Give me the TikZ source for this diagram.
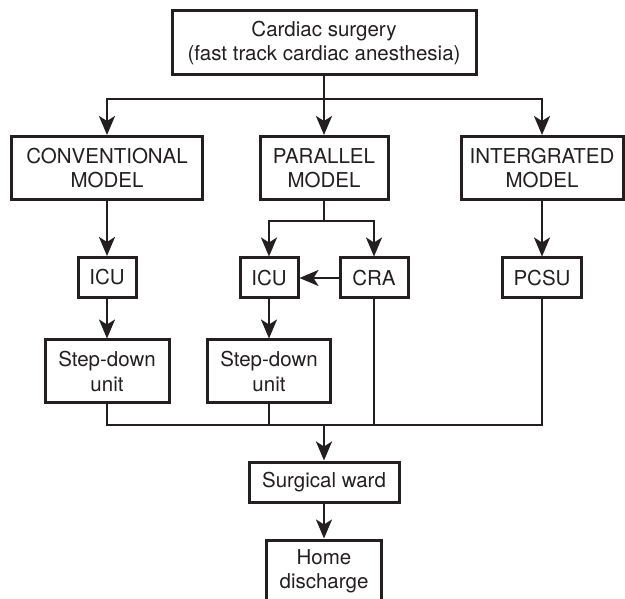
\documentclass[tikz,border=0pt]{standalone}
\usepackage{fontspec}
\setmainfont{TeX Gyre Heros}
\usetikzlibrary{arrows.meta}
\definecolor{ink}{HTML}{231F20}
\tikzset{
  box/.style={draw=ink, line width=3pt, text=ink, align=center, inner sep=0pt,
    font=\fontsize{20.5}{24.5}\selectfont},
  wire/.style={draw=ink, line width=2.5pt},
  arr/.style={wire, -{Stealth[length=19pt,width=16pt,inset=5pt]}},
}
\begin{document}
\begin{tikzpicture}[x=1pt,y=-1pt]
  \useasboundingbox (0,0) rectangle (625,599);
  % boxes
  \node[box, minimum width=304, minimum height=64] (top) at (324,43)
    {Cardiac surgery\\(fast track cardiac anesthesia)};
  \node[box, minimum width=191, minimum height=63] (conv) at (107,168) {CONVENTIONAL\\MODEL};
  \node[box, minimum width=128, minimum height=63] (par) at (324,168) {PARALLEL\\MODEL};
  \node[box, minimum width=162, minimum height=63] (integ) at (542,168) {INTERGRATED\\MODEL};
  \node[box, minimum width=58, minimum height=40] (icua) at (107,277.5) {ICU};
  \node[box, minimum width=58, minimum height=40] (icub) at (269,278) {ICU};
  \node[box, minimum width=68, minimum height=40] (cra) at (374,278) {CRA};
  \node[box, minimum width=79, minimum height=40] (pcsu) at (542,278) {PCSU};
  \node[box, minimum width=124, minimum height=63] (sda) at (107,371.5) {Step-down\\unit};
  \node[box, minimum width=123, minimum height=63] (sdb) at (269,371.5) {Step-down\\unit};
  \node[box, minimum width=150, minimum height=40] (ward) at (324,482) {Surgical ward};
  \node[box, minimum width=115, minimum height=63] (home) at (324,571.5) {Home\\discharge};
  % junctions
  \coordinate (split) at (324,99);
  \coordinate (psplit) at (324,221);
  \coordinate (merge) at (324,425);
  % connectors
  \draw[wire] (top.south) -- (split);
  \draw[arr] (split) -| (conv.north);
  \draw[arr] (split) -- (par.north);
  \draw[arr] (split) -| (integ.north);
  \draw[arr] (conv.south) -- (icua.north);
  \draw[arr] (icua.south) -- (sda.north);
  \draw[wire] (par.south) -- (psplit);
  \draw[arr] (psplit) -| (icub.north);
  \draw[arr] (psplit) -| (cra.north);
  \draw[arr] (cra.west) -- (icub.east);
  \draw[arr] (icub.south) -- (sdb.north);
  \draw[arr] (integ.south) -- (pcsu.north);
  \draw[wire] (sda.south) |- (pcsu.south |- merge) -- (pcsu.south);
  \draw[wire] (sdb.south) -- (sdb.south |- merge);
  \draw[wire] (cra.south) -- (cra.south |- merge);
  \draw[arr] (merge) -- (ward.north);
  \draw[arr] (ward.south) -- (home.north);
\end{tikzpicture}
\end{document}
